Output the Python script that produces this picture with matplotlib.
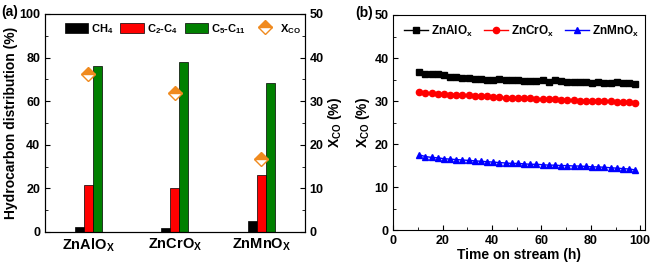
import matplotlib
matplotlib.use("Agg")
import matplotlib.pyplot as plt
from matplotlib.ticker import MultipleLocator

plt.rcParams['font.family'] = ['Liberation Sans', 'DejaVu Sans']
plt.rcParams['font.weight'] = 'bold'
plt.rcParams['axes.labelweight'] = 'bold'
plt.rcParams['mathtext.fontset'] = 'custom'
plt.rcParams['mathtext.rm'] = 'Liberation Sans:bold'
plt.rcParams['mathtext.bf'] = 'Liberation Sans:bold'
plt.rcParams['mathtext.default'] = 'bf'
plt.rcParams['font.size'] = 9

# --- data: panel (a) ---
catalysts = ['ZnAlO$_X$', 'ZnCrO$_X$', 'ZnMnO$_X$']
ch4 = [2.5, 2.0, 5.0]
c2_c4 = [21.5, 20.0, 26.0]
c5_c11 = [76.0, 78.0, 68.5]
xco = [36.2, 31.8, 16.8]

# --- data: panel (b) ---
time_h = [10.5, 13, 15.5, 18, 20.5, 23, 25.5, 28, 30.5, 33, 35.5, 38,
          40.5, 43, 45.5, 48, 50.5, 53, 55.5, 58, 60.5, 63, 65.5, 68,
          70.5, 73, 75.5, 78, 80.5, 83, 85.5, 88, 90.5, 93, 95.5, 98]
x_znal = [36.7, 36.3, 36.3, 36.2, 36.0, 35.7, 35.6, 35.4, 35.3, 35.2, 35.1, 35.0,
          34.9, 35.2, 34.9, 34.8, 34.9, 34.7, 34.7, 34.7, 34.8, 34.5, 34.9, 34.7,
          34.5, 34.5, 34.5, 34.4, 34.3, 34.4, 34.3, 34.2, 34.5, 34.2, 34.1, 33.9]
x_zncr = [32.0, 31.9, 31.8, 31.7, 31.6, 31.5, 31.5, 31.4, 31.3, 31.2, 31.1, 31.1,
          31.0, 30.9, 30.8, 30.8, 30.7, 30.6, 30.6, 30.5, 30.5, 30.4, 30.4, 30.3,
          30.2, 30.2, 30.1, 30.1, 30.0, 30.0, 29.9, 29.9, 29.8, 29.7, 29.7, 29.6]
x_znmn = [17.5, 17.1, 16.9, 16.8, 16.6, 16.5, 16.4, 16.3, 16.2, 16.1, 16.0, 15.9,
          15.8, 15.7, 15.6, 15.5, 15.5, 15.4, 15.3, 15.3, 15.2, 15.1, 15.1, 15.0,
          15.0, 14.9, 14.9, 14.8, 14.7, 14.7, 14.6, 14.5, 14.4, 14.3, 14.2, 14.0]

fig = plt.figure(figsize=(6.61, 2.63), dpi=100)
ax1 = fig.add_axes([0.068, 0.118, 0.393, 0.829])
ax2 = fig.add_axes([0.595, 0.125, 0.381, 0.818])

# --- panel (a) ---
pos = list(range(len(catalysts)))
w = 0.105
ax1.bar([p - w for p in pos], ch4, w, color='black', edgecolor='black', lw=0.5, label='CH$_4$')
ax1.bar(pos, c2_c4, w, color='red', edgecolor='black', lw=0.5, label='C$_2$-C$_4$')
ax1.bar([p + w for p in pos], c5_c11, w, color='green', edgecolor='black', lw=0.5, label='C$_5$-C$_{11}$')
ax1.set_xlim(-0.5, 2.5)
ax1.set_ylim(0, 100)
ax1.set_xticks(pos)
ax1.set_xticklabels(catalysts, fontsize=10.5)
ax1.yaxis.set_major_locator(MultipleLocator(20))
ax1.yaxis.set_minor_locator(MultipleLocator(10))
ax1.tick_params(axis='both', which='both', direction='in')
ax1.tick_params(axis='x', length=0)
ax1.set_ylabel('Hydrocarbon distribution (%)', fontsize=10, labelpad=1)

ax1r = ax1.twinx()
ax1r.plot(pos, xco, linestyle='none', marker='D', markersize=7, color='#f08a1e',
          fillstyle='top', markerfacecoloralt='white', markeredgecolor='#f08a1e', label='X$_{CO}$')
ax1r.set_ylim(0, 50)
ax1r.yaxis.set_major_locator(MultipleLocator(10))
ax1r.yaxis.set_minor_locator(MultipleLocator(5))
ax1r.tick_params(axis='y', which='both', direction='in')
ax1r.set_ylabel('X$_{CO}$ (%)', fontsize=10, labelpad=2)

h1, l1 = ax1.get_legend_handles_labels()
h2, l2 = ax1r.get_legend_handles_labels()
ax1.legend(h1 + h2, l1 + l2, ncol=4, frameon=False, loc='upper center',
           bbox_to_anchor=(0.53, 1.01), handlelength=2.1, handleheight=1.1,
           handletextpad=0.3, columnspacing=0.6, fontsize=8)
ax1.text(-0.17, 1.01, '(a)', transform=ax1.transAxes, fontsize=10, va='center')

# --- panel (b) ---
ax2.plot(time_h, x_znal, '-s', color='black', markersize=4.5, lw=1, label='ZnAlO$_x$')
ax2.plot(time_h, x_zncr, '-o', color='red', markersize=4.5, lw=1, label='ZnCrO$_x$')
ax2.plot(time_h, x_znmn, '-^', color='blue', markersize=4.5, lw=1, label='ZnMnO$_x$')
ax2.set_xlim(0, 102)
ax2.set_ylim(0, 50)
ax2.xaxis.set_major_locator(MultipleLocator(20))
ax2.xaxis.set_minor_locator(MultipleLocator(10))
ax2.yaxis.set_major_locator(MultipleLocator(10))
ax2.yaxis.set_minor_locator(MultipleLocator(5))
ax2.tick_params(axis='both', which='both', direction='in')
ax2.set_xlabel('Time on stream (h)', fontsize=10, labelpad=1)
ax2.set_ylabel('X$_{CO}$ (%)', fontsize=10, labelpad=2)
ax2.legend(ncol=3, frameon=False, loc='upper center', bbox_to_anchor=(0.51, 1.01),
           handlelength=2.0, handletextpad=0.3, columnspacing=0.9, fontsize=8.5)
ax2.text(-0.15, 1.01, '(b)', transform=ax2.transAxes, fontsize=10, va='center')

fig.savefig('out.png', dpi=100)
